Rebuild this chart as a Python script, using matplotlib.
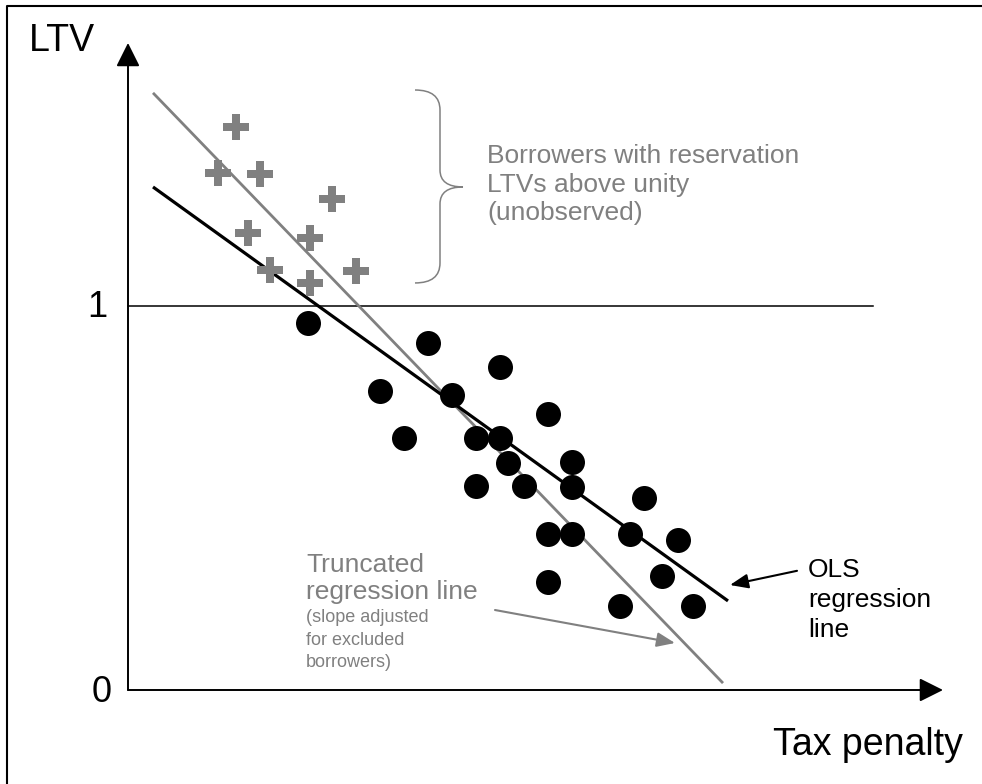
import numpy as np
import matplotlib
matplotlib.use('Agg')
import matplotlib.pyplot as plt
from matplotlib.lines import Line2D
from matplotlib.path import Path
from matplotlib.patches import PathPatch

plt.rcParams['font.family'] = ['Liberation Sans', 'DejaVu Sans']

GRAY = '#808080'

# observed borrowers (LTV below unity)
dot_x = [2.25, 3.75, 4.65, 3.15, 4.05, 5.25, 3.45, 4.35, 4.65, 4.75, 5.55, 4.35,
         4.95, 5.55, 6.45, 5.25, 5.55, 6.275, 6.875, 5.25, 6.675, 6.15, 7.06]
dot_y = [0.956, 0.904, 0.841, 0.779, 0.768, 0.719, 0.656, 0.656, 0.656, 0.591, 0.594, 0.531,
         0.531, 0.529, 0.500, 0.406, 0.406, 0.406, 0.391, 0.281, 0.297, 0.219, 0.219]

# unobserved borrowers (LTV above unity)
plus_x = [1.35, 1.125, 1.65, 2.55, 1.5, 2.275, 1.775, 2.275, 2.85]
plus_y = [1.466, 1.346, 1.344, 1.279, 1.190, 1.177, 1.094, 1.060, 1.091]

# regression lines (start, end)
ols_x = [0.3125, 7.5]
ols_y = [1.31, 0.232]
trunc_x = [0.3125, 7.4375]
trunc_y = [1.555, 0.018]

fig = plt.figure(figsize=(9.82, 7.84), dpi=100)
ax = fig.add_axes([0, 0, 1, 1])
ax.set_xlim(-1.6, 10.675)
ax.set_ylim(-0.24479, 1.796875)
ax.axis('off')

# frame (only top and left edges visible)
fig.add_artist(Line2D([0.00713, 0.00713, 1.0], [0.0, 0.99235, 0.99235],
                      transform=fig.transFigure, color='black', lw=1.5))

# axes with arrows
axis_arrow = dict(arrowstyle='-|>,head_length=0.5,head_width=0.25', mutation_scale=29,
                  color='black', lw=1.4, shrinkA=0, shrinkB=0)
ax.annotate('', xy=(0, 1.685), xytext=(0, 0), arrowprops=axis_arrow)
ax.annotate('', xy=(10.1875, 0), xytext=(0, 0), arrowprops=axis_arrow)

# LTV = 1 threshold
ax.plot([0, 9.3125], [1, 1], color='black', lw=1.1)

ax.plot(trunc_x, trunc_y, color=GRAY, lw=2.0, solid_capstyle='butt')
ax.plot(ols_x, ols_y, color='black', lw=2.3, solid_capstyle='butt')

ax.plot(dot_x, dot_y, 'o', color='black', markersize=18, markeredgewidth=0)
ax.plot(plus_x, plus_y, 'P', color=GRAY, markersize=19, markeredgewidth=0)

# axis labels
ax.text(-1.2375, 1.664, 'LTV', fontsize=27, ha='left', va='baseline')
ax.text(-0.2625, 0.971, '1', fontsize=26, ha='right', va='baseline')
ax.text(-0.2, -0.03125, '0', fontsize=26, ha='right', va='baseline')
ax.text(8.0625, -0.169, 'Tax penalty', fontsize=27, ha='left', va='baseline')

# brace around unobserved borrowers
bx, x_end, x_tip = 3.9, 3.5875, 4.1875
y_top, y_mid, y_bot = 1.5625, 1.31, 1.06
r, r2 = 0.052, 0.044
verts = [(x_end, y_top), (bx, y_top), (bx, y_top - r),
         (bx, y_mid + r2),
         (bx, y_mid), (x_tip, y_mid),
         (bx, y_mid), (bx, y_mid - r2),
         (bx, y_bot + r),
         (bx, y_bot), (x_end, y_bot)]
codes = [Path.MOVETO, Path.CURVE3, Path.CURVE3,
         Path.LINETO,
         Path.CURVE3, Path.CURVE3,
         Path.CURVE3, Path.CURVE3,
         Path.LINETO,
         Path.CURVE3, Path.CURVE3]
ax.add_patch(PathPatch(Path(verts, codes), fill=False, edgecolor=GRAY, lw=1.1))

for txt, yy in [('Borrowers with reservation', 1.372),
                ('LTVs above unity', 1.297),
                ('(unobserved)', 1.224)]:
    ax.text(4.4875, yy, txt, fontsize=19, color=GRAY, ha='left', va='baseline')

# truncated regression annotation
for txt, yy in [('Truncated', 0.307), ('regression line', 0.237)]:
    ax.text(2.225, yy, txt, fontsize=19, color=GRAY, ha='left', va='baseline')
for txt, yy in [('(slope adjusted', 0.177), ('for excluded', 0.117), ('borrowers)', 0.060)]:
    ax.text(2.225, yy, txt, fontsize=13, color=GRAY, ha='left', va='baseline')
ax.annotate('', xy=(6.8375, 0.1224), xytext=(4.5875, 0.2083),
            arrowprops=dict(arrowstyle='-|>,head_length=0.5,head_width=0.2', mutation_scale=22,
                            color=GRAY, lw=1.5, shrinkA=0, shrinkB=0))

# OLS annotation
for txt, yy in [('OLS', 0.294), ('regression', 0.216), ('line', 0.138)]:
    ax.text(8.5, yy, txt, fontsize=19, color='black', ha='left', va='baseline')
ax.annotate('', xy=(7.525, 0.2734), xytext=(8.3625, 0.3104),
            arrowprops=dict(arrowstyle='-|>,head_length=0.5,head_width=0.2', mutation_scale=22,
                            color='black', lw=1.5, shrinkA=0, shrinkB=0))

fig.savefig('out.png', dpi=100)
